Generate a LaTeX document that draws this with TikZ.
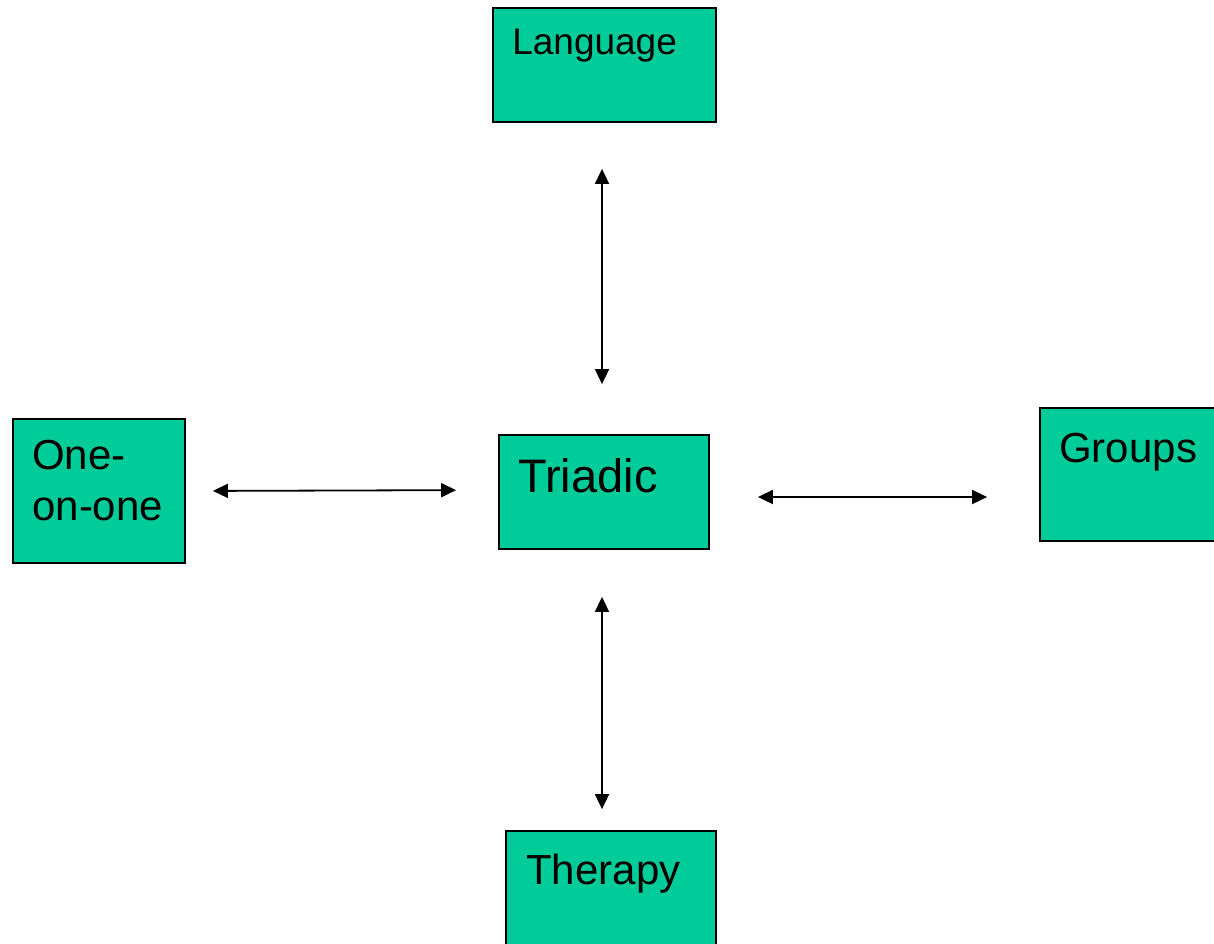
\documentclass[tikz,border=0pt]{standalone}
\usepackage{fontspec}
\setmainfont{Liberation Sans}
\usetikzlibrary{positioning, arrows.meta}

\definecolor{boxgreen}{HTML}{00CC99}

\begin{document}
\begin{tikzpicture}[x=1pt, y=-1pt,
    topic/.style={shape=rectangle, draw=black, line width=1.8pt, fill=boxgreen, inner sep=0pt},
    lbl/.style={anchor=north west, align=left, text=black, inner sep=0pt},
    link/.style={{Triangle[length=15pt,width=14pt]}-{Triangle[length=15pt,width=14pt]}, line width=1.8pt}]
    \clip (0, 0) rectangle (1214, 943);

    \node[topic, minimum width=223pt, minimum height=114pt,
        label={[lbl, inner xsep=20pt, inner ysep=22pt, font=\fontsize{37}{44}\selectfont]north west:Language}] (lang) at (604.5, 65) {};
    \node[topic, minimum width=210pt, minimum height=114pt,
        label={[lbl, inner xsep=20pt, inner ysep=24pt, font=\fontsize{47}{56}\selectfont]north west:Triadic}] (tri) at (604, 492) {};
    \node[topic, minimum width=172pt, minimum height=144pt,
        label={[lbl, inner xsep=20pt, inner ysep=22pt, font=\fontsize{42}{51}\selectfont]north west:One-\\on-one}] (one) at (99, 491) {};
    \node[topic, minimum width=210pt, minimum height=133pt,
        label={[lbl, inner xsep=20pt, inner ysep=26pt, font=\fontsize{42}{51}\selectfont]north west:Groups}] (groups) at (1145, 474.5) {};
    \node[topic, minimum width=210pt, minimum height=114pt,
        label={[lbl, inner xsep=21pt, inner ysep=24pt, font=\fontsize{42}{51}\selectfont]north west:Therapy}] (therapy) at (611, 888) {};

    \draw[link, shorten <=46pt, shorten >=50pt] ([xshift=-2.5pt]lang.south) -- ([xshift=-2pt]tri.north);
    \draw[link, shorten <=27pt, shorten >=42pt] (one.east) -- ([yshift=2pt]tri.west);
    \draw[link, shorten <=48pt, shorten >=52pt] ([yshift=-5pt]tri.east) -- ([yshift=-5pt]tri.east -| groups.west);
    \draw[link, shorten <=47pt, shorten >=21pt] ([xshift=-2pt]tri.south) -- ([xshift=-9pt]therapy.north);
\end{tikzpicture}
\end{document}
